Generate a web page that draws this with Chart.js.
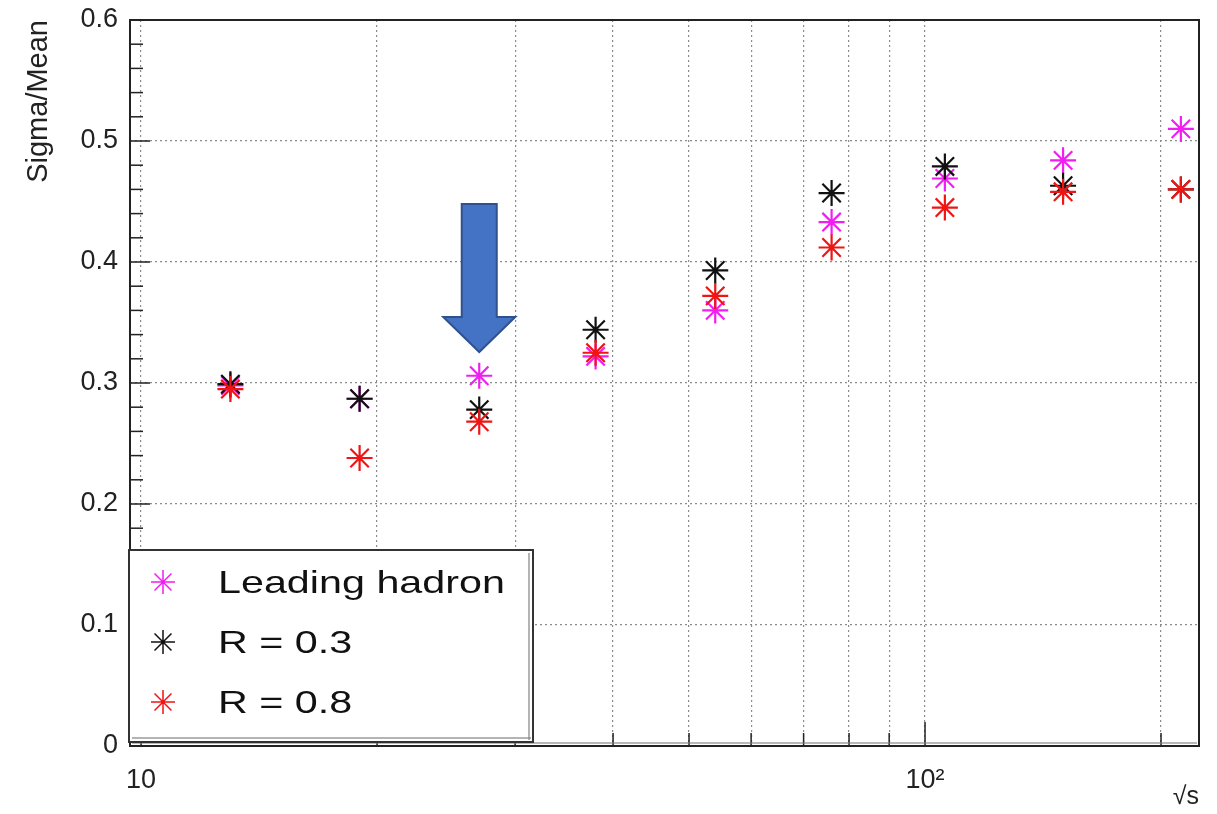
<!DOCTYPE html>
<html><head><meta charset="utf-8">
<script src="https://cdn.jsdelivr.net/npm/chart.js@4.4.0/dist/chart.umd.min.js"></script>
<style>html,body{margin:0;padding:0;background:#fff;} #wrap{width:1217px;height:814px;position:relative}</style>
</head><body><div id="wrap"><canvas id="c" width="1217" height="814"></canvas></div>
<script>
// ---- data ----
const energies = [13, 19, 27, 38, 54, 76, 106, 150, 212];
const leadingHadron = [0.298, 0.287, 0.306, 0.322, 0.360, 0.433, 0.469, 0.484, 0.510];
const r03 = [0.299, 0.287, 0.278, 0.344, 0.393, 0.457, 0.479, 0.463, 0.460];
const r08 = [0.295, 0.238, 0.268, 0.325, 0.372, 0.412, 0.445, 0.458, 0.460];
const seriesLabels = ['Leading hadron', 'R = 0.3', 'R = 0.8'];
const seriesColors = ['#f21df2', '#111111', '#f01414'];
const xTickValues = [10, 20, 30, 40, 50, 60, 70, 80, 90, 100, 200];
const xTickLabels = {10: '10', 100: '10\u00B2'};
const yMajorTicks = [0, 0.1, 0.2, 0.3, 0.4, 0.5, 0.6];
const xTitle = '\u221As';
const yTitle = 'Sigma/Mean';
// annotation arrow (data coordinates)
const arrowX = 27, arrowTop = 0.448, arrowHeadBase = 0.3545, arrowTip = 0.3256;

const FONT = '"Liberation Sans", Arial, Helvetica, sans-serif';
const isMajorY = v => Math.abs(v * 10 - Math.round(v * 10)) < 1e-6;
const yMinorTicks = [];
for (let i = 0; i <= 30; i++) yMinorTicks.push(Math.round(i * 2) / 100);

const rootDecor = {
  id: 'rootDecor',
  afterDatasetsDraw(chart) {
    const {ctx, chartArea: a, scales: {x, y}} = chart;
    ctx.save();
    const line = (x1, y1, x2, y2) => { ctx.beginPath(); ctx.moveTo(x1, y1); ctx.lineTo(x2, y2); ctx.stroke(); };
    // inward tick marks
    ctx.strokeStyle = '#222'; ctx.lineWidth = 1.5;
    y.ticks.forEach(t => {
      const py = y.getPixelForValue(t.value);
      line(a.left, py, a.left + (isMajorY(t.value) ? 20 : 13), py);
    });
    x.ticks.forEach(t => {
      const px = x.getPixelForValue(t.value);
      const major = (t.value === 10 || t.value === 100);
      line(px, a.bottom, px, a.bottom - (major ? 24 : 13));
    });
    // frame
    ctx.lineWidth = 2; ctx.strokeStyle = '#222';
    ctx.strokeRect(a.left, a.top, a.right - a.left, a.bottom - a.top);
    ctx.strokeStyle = 'rgba(120,120,120,0.7)'; ctx.lineWidth = 1.5;
    line(a.left + 2, a.bottom - 3, a.right - 2, a.bottom - 3);

    // arrow
    const ax = x.getPixelForValue(arrowX);
    const yT = y.getPixelForValue(arrowTop), yB = y.getPixelForValue(arrowHeadBase), yP = y.getPixelForValue(arrowTip);
    const sw = 17.5, hw = 36;
    ctx.beginPath();
    ctx.moveTo(ax - sw, yT); ctx.lineTo(ax + sw, yT); ctx.lineTo(ax + sw, yB); ctx.lineTo(ax + hw, yB);
    ctx.lineTo(ax, yP); ctx.lineTo(ax - hw, yB); ctx.lineTo(ax - sw, yB); ctx.closePath();
    ctx.fillStyle = '#4472C4'; ctx.fill();
    ctx.strokeStyle = '#2F528F'; ctx.lineWidth = 2; ctx.lineJoin = 'miter'; ctx.stroke();

    // legend box
    const bx = a.left - 1, by = 550, bw = 404, bh = 192;
    ctx.fillStyle = '#fff'; ctx.fillRect(bx, by, bw, bh);
    ctx.strokeStyle = '#333'; ctx.lineWidth = 2; ctx.strokeRect(bx, by, bw, bh);
    ctx.strokeStyle = 'rgba(130,130,130,0.8)'; ctx.lineWidth = 1.5;
    line(bx + 3, by + bh - 4, bx + bw - 2, by + bh - 4);
    line(bx + bw - 4, by + 3, bx + bw - 4, by + bh - 2);
    const rows = [582, 642, 702];
    seriesLabels.forEach((lab, i) => {
      ctx.strokeStyle = seriesColors[i]; ctx.fillStyle = seriesColors[i];
      Chart.helpers.drawPoint(ctx, {pointStyle: 'star', radius: 12, borderWidth: 1.8}, bx + 34, rows[i]);
      ctx.save();
      ctx.translate(bx + 89, rows[i] + 11);
      ctx.scale(1.29, 1);
      ctx.font = '32px ' + FONT; ctx.fillStyle = '#111'; ctx.textBaseline = 'alphabetic'; ctx.textAlign = 'left';
      ctx.fillText(lab, 0, 0);
      ctx.restore();
    });
    ctx.restore();
  }
};

const mk = (label, data, color, order) => ({
  label, order,
  data: energies.map((e, i) => ({x: e, y: data[i]})),
  borderColor: color, backgroundColor: color,
  pointStyle: 'star', pointRadius: 13, pointHoverRadius: 13, pointBorderWidth: 2.2,
  showLine: false
});

new Chart(document.getElementById('c'), {
  type: 'scatter',
  data: {datasets: [
    mk(seriesLabels[0], leadingHadron, seriesColors[0], 3),
    mk(seriesLabels[1], r03, seriesColors[1], 2),
    mk(seriesLabels[2], r08, seriesColors[2], 1)
  ]},
  options: {
    responsive: false, animation: false, events: [],
    layout: {padding: {top: 20, right: 18, left: 0, bottom: 0}},
    plugins: {legend: {display: false}, tooltip: {enabled: false}},
    scales: {
      x: {
        type: 'logarithmic', min: 9.68, max: 223.6,
        afterBuildTicks: s => { s.ticks = xTickValues.map(v => ({value: v})); },
        afterFit: s => { s.height = 68; s.paddingLeft = 0; s.paddingRight = 0; },
        ticks: {
          autoSkip: false, maxRotation: 0, minRotation: 0, padding: 18, color: '#222',
          font: {family: FONT, size: 27},
          callback: v => xTickLabels[v] || ''
        },
        grid: {drawTicks: false, color: '#8c8c8c', lineWidth: 1.2},
        border: {display: false, dash: [2, 3]},
        title: {display: true, text: xTitle, align: 'end', color: '#222', font: {family: FONT, size: 25}, padding: {top: 0, bottom: 2}}
      },
      y: {
        min: 0, max: 0.6,
        afterBuildTicks: s => { s.ticks = yMinorTicks.map(v => ({value: v})); },
        afterFit: s => { s.width = 130; s.paddingTop = 0; s.paddingBottom = 0; },
        ticks: {
          autoSkip: false, padding: 12, color: '#222',
          font: {family: FONT, size: 27},
          callback: v => isMajorY(v) ? (v === 0 ? '0' : (Math.round(v * 10) / 10).toFixed(1)) : ''
        },
        grid: {
          drawTicks: false, lineWidth: 1.2,
          color: c => (c.tick && isMajorY(c.tick.value) && c.tick.value > 0.01 && c.tick.value < 0.59) ? '#8c8c8c' : 'rgba(0,0,0,0)'
        },
        border: {display: false, dash: [2, 3]},
        title: {display: true, text: yTitle, align: 'end', color: '#222', font: {family: FONT, size: 29}, padding: {top: 22, bottom: 0}}
      }
    }
  },
  plugins: [rootDecor]
});
</script>
</body></html>
